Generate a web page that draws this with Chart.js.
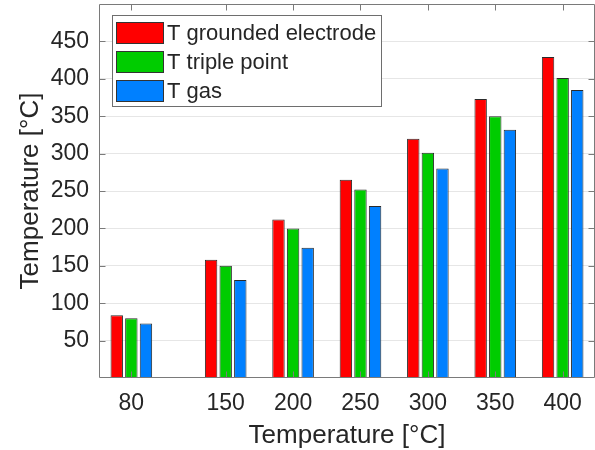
<!DOCTYPE html>
<html><head><meta charset="utf-8">
<script src="https://cdn.jsdelivr.net/npm/chart.js@4.4.0/dist/chart.umd.min.js"></script>
<style>html,body{margin:0;padding:0;background:#fff;} #c{display:block;}</style>
</head><body>
<canvas id="c" width="595" height="450"></canvas>
<script>
const temperatures = [80, 150, 200, 250, 300, 350, 400];
const tGroundedElectrode = [84, 158, 212, 265, 320, 373, 429];
const tTriplePoint = [80, 150, 200, 252, 301, 350, 401];
const tGas = [73, 131, 174, 230, 280, 332, 385];
const xTickValues = [80, 150, 200, 250, 300, 350, 400];
const yTickValues = [50, 100, 150, 200, 250, 300, 350, 400, 450];
const seriesLabels = ['T grounded electrode', 'T triple point', 'T gas'];
const seriesColors = ['#ff0000', '#00cc00', '#0080ff'];
const xAxisTitle = 'Temperature [°C]';
const yAxisTitle = 'Temperature [°C]';

const FONT = '"Liberation Sans", Arial, Helvetica, sans-serif';
const TEXT = '#262626';
const series = [tGroundedElectrode, tTriplePoint, tGas];

const framePlugin = {
  id: 'frame',
  afterDatasetsDraw(chart) {
    const {ctx, chartArea: a, scales: {x, y}} = chart;
    ctx.save();
    ctx.strokeStyle = '#7a7a7a';
    ctx.lineWidth = 1;
    const L = Math.round(a.left) + 0.5, R = Math.round(a.right) - 0.5;
    const T = Math.round(a.top) + 0.5, B = Math.round(a.bottom) - 0.5;
    ctx.beginPath();
    ctx.rect(L, T, R - L, B - T);
    x.ticks.forEach(t => {
      const px = Math.round(x.getPixelForValue(t.value)) + 0.5;
      ctx.moveTo(px, B); ctx.lineTo(px, B - 6);
      ctx.moveTo(px, T); ctx.lineTo(px, T + 6);
    });
    y.ticks.forEach(t => {
      const py = Math.round(y.getPixelForValue(t.value)) + 0.5;
      ctx.moveTo(L, py); ctx.lineTo(L + 6, py);
      ctx.moveTo(R, py); ctx.lineTo(R - 6, py);
    });
    ctx.stroke();
    ctx.restore();
  }
};

const legendPlugin = {
  id: 'boxLegend',
  afterDraw(chart) {
    const ctx = chart.ctx;
    const ds = chart.data.datasets;
    const x0 = 112.5, y0 = 15.5, w = 269, h = 91;
    ctx.save();
    ctx.fillStyle = '#ffffff';
    ctx.fillRect(x0, y0, w, h);
    ctx.strokeStyle = '#6e6e6e';
    ctx.lineWidth = 1;
    ctx.strokeRect(x0, y0, w, h);
    ds.forEach((d, i) => {
      const cy = 33 + i * 29;
      ctx.fillStyle = d.backgroundColor;
      ctx.fillRect(116.5, cy - 10.5, 47, 21);
      ctx.strokeStyle = '#333333';
      ctx.strokeRect(116.5, cy - 10.5, 47, 21);
      ctx.fillStyle = TEXT;
      ctx.font = '22px ' + FONT;
      ctx.textBaseline = 'middle';
      ctx.textAlign = 'left';
      ctx.fillText(d.label, 167, cy + 1);
    });
    ctx.restore();
  }
};

new Chart(document.getElementById('c'), {
  type: 'bar',
  data: {
    datasets: series.map((vals, i) => ({
      label: seriesLabels[i],
      data: temperatures.map((t, j) => ({x: t, y: vals[j]})),
      backgroundColor: seriesColors[i],
      borderColor: '#2b2b2b',
      borderWidth: 1,
      borderSkipped: false,
      categoryPercentage: 0.65,
      barPercentage: 0.85
    }))
  },
  options: {
    responsive: false,
    animation: false,
    devicePixelRatio: 1,
    layout: {padding: {top: 4, right: 0, left: 0, bottom: 0}},
    plugins: {legend: {display: false}, tooltip: {enabled: false}},
    scales: {
      x: {
        type: 'linear',
        min: 56, max: 424,
        offset: false,
        afterBuildTicks: s => { s.ticks = xTickValues.map(v => ({value: v})); },
        afterFit: s => { s.height = 72; s.paddingLeft = 0; s.paddingRight = 0; },
        grid: {display: false, drawTicks: false},
        border: {display: false},
        ticks: {color: TEXT, font: {family: FONT, size: 23}, padding: 12, maxRotation: 0, autoSkip: false},
        title: {display: true, text: xAxisTitle, color: TEXT, font: {family: FONT, size: 26, lineHeight: 1}, padding: {top: 0, bottom: 1}}
      },
      y: {
        min: 0, max: 500,
        afterBuildTicks: s => { s.ticks = yTickValues.map(v => ({value: v})); },
        afterFit: s => { s.width = 99; s.paddingTop = 0; s.paddingBottom = 0; },
        grid: {color: '#e6e6e6', lineWidth: 1, drawTicks: false},
        border: {display: false},
        ticks: {color: TEXT, font: {family: FONT, size: 23}, padding: 10},
        title: {display: true, text: yAxisTitle, color: TEXT, font: {family: FONT, size: 26, lineHeight: 1}, padding: {top: 18, bottom: 0}}
      }
    }
  },
  plugins: [framePlugin, legendPlugin]
});
</script>
</body></html>
